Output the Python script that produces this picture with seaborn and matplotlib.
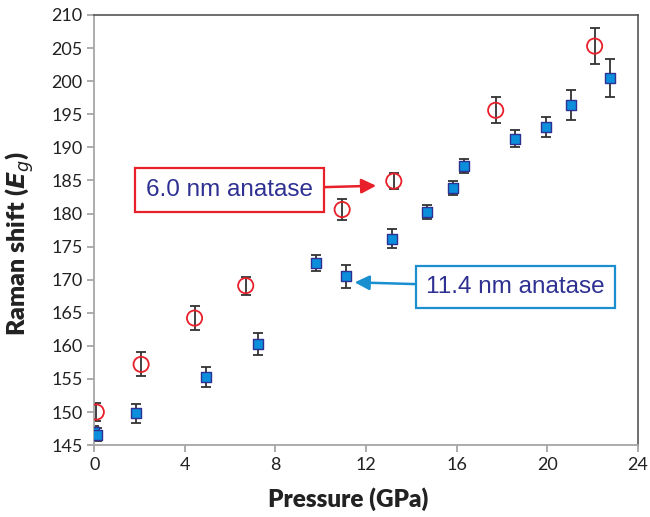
import numpy as np
import pandas as pd
import matplotlib
matplotlib.use("Agg")
import matplotlib.pyplot as plt
import seaborn as sns

# 6.0 nm anatase (open red circles)
p_small = [0.09, 2.07, 4.43, 6.69, 10.95, 13.23, 17.73, 22.10]
r_small = [150.0, 157.2, 164.2, 169.1, 180.6, 184.9, 195.6, 205.3]
e_small = [1.3, 1.8, 1.76, 1.36, 1.54, 1.26, 1.96, 2.77]

# 11.4 nm anatase (blue squares)
p_large = [0.0, 0.1, 1.84, 4.94, 7.25, 9.79, 11.14, 13.17, 14.71, 15.84, 16.35,
           18.58, 19.97, 21.07, 22.76]
r_large = [147.0, 146.6, 149.8, 155.3, 160.3, 172.5, 170.5, 176.2, 180.3, 183.9,
           187.25, 191.3, 193.0, 196.4, 200.5]
e_large = [0.9, 1.0, 1.45, 1.5, 1.64, 1.18, 1.76, 1.4, 1.06, 1.06, 1.06,
           1.28, 1.51, 2.3, 2.9]

df_s = pd.DataFrame({"Pressure": p_small, "Raman": r_small, "err": e_small})
df_l = pd.DataFrame({"Pressure": p_large, "Raman": r_large, "err": e_large})

sns.set_theme(style="ticks")
plt.rcParams["font.family"] = ["Lato", "DejaVu Sans"]

fig, ax = plt.subplots(figsize=(6.5, 5.17), dpi=100)
fig.subplots_adjust(left=0.145, right=0.981, top=0.971, bottom=0.139)

errc = "#333333"
ax.errorbar(df_s["Pressure"], df_s["Raman"], yerr=df_s["err"], fmt="none",
            ecolor=errc, elinewidth=1.3, capsize=3.6, capthick=1.3, zorder=2)
ax.errorbar(df_l["Pressure"], df_l["Raman"], yerr=df_l["err"], fmt="none",
            ecolor=errc, elinewidth=1.3, capsize=3.6, capthick=1.3, zorder=2)

sns.scatterplot(data=df_l, x="Pressure", y="Raman", ax=ax, marker="s", s=55,
                color="#0b8fdc", edgecolor="#2e3192", linewidth=1.0, zorder=3)
sns.scatterplot(data=df_s, x="Pressure", y="Raman", ax=ax, marker="o", s=120,
                facecolor="none", edgecolor="#e8202a", linewidth=1.3, zorder=4)

ax.set_xlim(0, 24)
ax.set_ylim(145, 210)
ax.set_xticks(np.arange(0, 25, 4))
ax.set_yticks(np.arange(145, 211, 5))

for side in ["left", "bottom"]:
    ax.spines[side].set_color("#a6a6a6")
    ax.spines[side].set_linewidth(1.3)
for side in ["top", "right"]:
    ax.spines[side].set_visible(True)
    ax.spines[side].set_color("#555555")
    ax.spines[side].set_linewidth(1.2)
ax.tick_params(axis="both", colors="#a6a6a6", labelcolor="#222222",
               labelsize=13, length=5, width=1.3, direction="out")

ax.set_xlabel("Pressure (GPa)", fontsize=17.5, fontweight="heavy", color="#222222")
ax.set_ylabel(r"Raman shift ($\mathbfit{E}_{\mathit{g}}$)", fontsize=18,
              fontweight="heavy", color="#222222")
ax.xaxis.set_label_coords(0.467, -0.098)
ax.yaxis.set_label_coords(-0.107, 0.468)

txtc = "#2e3192"
ax.annotate("6.0 nm anatase", xy=(12.45, 184.2), xytext=(5.98, 183.6),
            ha="center", va="center", fontsize=17.5, color=txtc,
            family=["Liberation Sans", "DejaVu Sans"],
            bbox=dict(boxstyle="square,pad=0.45", fc="white", ec="#e8202a", lw=1.6),
            arrowprops=dict(arrowstyle="-|>", color="#e8202a", lw=1.8,
                            mutation_scale=22, shrinkA=0, shrinkB=0))
ax.annotate("11.4 nm anatase", xy=(11.5, 169.6), xytext=(18.6, 168.9),
            ha="center", va="center", fontsize=17.5, color=txtc,
            family=["Liberation Sans", "DejaVu Sans"],
            bbox=dict(boxstyle="square,pad=0.42", fc="white", ec="#1a8fd0", lw=1.6),
            arrowprops=dict(arrowstyle="-|>", color="#1a8fd0", lw=1.8,
                            mutation_scale=22, shrinkA=0, shrinkB=0))

fig.savefig("out.png", dpi=100)
